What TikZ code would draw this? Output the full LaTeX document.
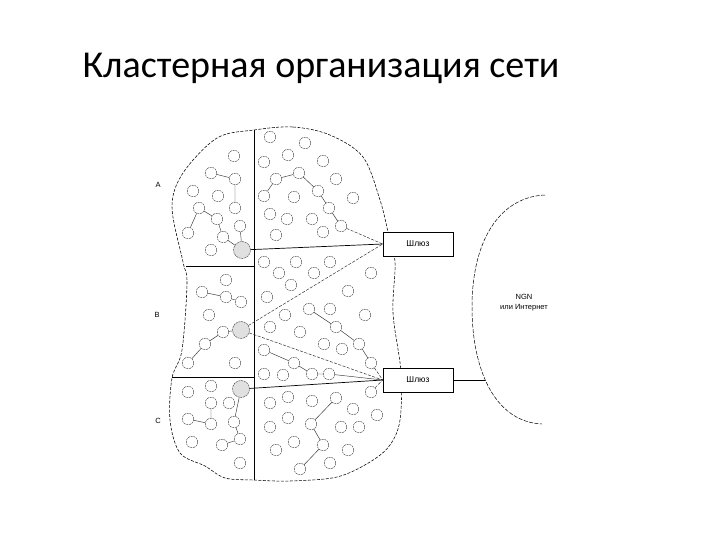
\documentclass[tikz,border=0pt]{standalone}
\usepackage{fontspec}
\setmainfont{Carlito}
\newfontfamily\arialf{Liberation Sans}
\begin{document}
\begin{tikzpicture}[x=1pt,y=-1pt,
  nd/.style={circle,draw=black!75,line width=0.45pt,dash pattern=on 2pt off 0.8pt,minimum size=11.5pt,inner sep=0pt},
  big/.style={nd,minimum size=17pt,fill=black!12},
  lk/.style={line width=0.45pt,black!80},
  dlk/.style={line width=0.5pt,black!80,dash pattern=on 3pt off 1.5pt},
  gw/.style={draw,fill=white,line width=0.6pt,minimum width=70pt,minimum height=24pt,inner sep=0pt,font=\arialf\fontsize{8.5}{10}\selectfont},
  lbl/.style={font=\arialf\fontsize{7.5}{9}\selectfont,inner sep=0pt}]
\useasboundingbox (0,0) rectangle (720,540);
\node[font=\fontsize{38}{44}\selectfont,anchor=base,inner sep=0pt] (title) at (321,78) {Кластерная организация сети};

% outer cluster boundary
\draw[line width=0.55pt,dash pattern=on 3pt off 1.5pt] plot[smooth cycle,tension=0.55] coordinates {
 (254,130) (293,127) (330,135) (363,157) (380,200) (388,232) (395,262) (393,313)
 (401,372) (400,420) (390,445) (370,462) (337,477) (290,481) (253,480) (225,478) (205,466) (180,453) (170,420)
 (172,378) (182,350) (187,283) (183,262) (172,207) (183,173) (217,138)};

% region lines
\draw[line width=0.8pt] (254,130) -- (254,480);
\draw[line width=0.7pt] (186,266) -- (254,266);
\draw[line width=0.7pt] (172,377) -- (254,377);

% gateways
\node[gw] (gwA) at (418,244) {Шлюз};
\node[gw] (gwB) at (418,380) {Шлюз};

% NGN
\draw[line width=0.5pt,dash pattern=on 4pt off 1.5pt] (545,195) .. controls (500,197) and (472,240) .. (472,307)
  .. controls (472,370) and (495,422) .. (542,424);
\coordinate (ngnL) at (485,380);
\node[lbl,align=center] (ngn) at (524,303) {NGN\\[1pt]или Интернет};

% labels
\node[lbl] (lA) at (158,185) {A};
\node[lbl] (lB) at (157,315) {B};
\node[lbl] (lC) at (158,421) {C};

% cluster heads
\node[big] (gA) at (242,250) {};
\node[big] (gB) at (241,330) {};
\node[big] (gC) at (241,389) {};

% nodes
\foreach \n/\x/\y in {
 a1/234/156, a2/211/173, a3/235/179, a4/193/191, a5/218/196, a6/235/208, a7/199/208,
 a8/217/219, a9/240/226, a10/188/233, a11/223/237, a12/211/250,
 b1/270/137, b2/305/143, b3/288/155, b4/264/162, b5/323/161, b6/299/173, b7/276/179,
 b8/336/179, b9/318/191, b10/264/196, b11/294/197, b12/353/198, b13/329/208, b14/270/214,
 b15/287/219, b16/312/219, b17/341/226, b18/276/235, b19/323/232,
 c1/226/280, c2/202/292, c3/226/297, c4/241/302, c5/209/315, c6/223/332, c7/205/344,
 c8/188/363, c9/235/363,
 d1/264/262, d2/296/262, d3/330/262, d4/279/273, d5/314/273, d6/371/273, d7/291/285,
 d8/348/291, d9/267/297, d10/285/315, d11/309/309, d12/330/309, d13/365/315, d14/270/327,
 d15/300/332, d16/336/327, d17/324/344, d18/342/349, d19/359/344, d20/264/350, d21/294/363,
 d22/371/363, d23/264/374, d24/283/375, d25/312/374, d26/329/374,
 e1/211/386, e2/188/392, e3/211/403, e4/229/403, e5/188/419, e6/234/422, e7/211/424,
 e8/240/439, e9/192/442, e10/222/445, e11/240/463,
 f1/371/392, f2/288/397, f3/336/398, f4/312/401, f5/270/403, f6/353/409, f7/377/415,
 f8/288/418, f9/311/424, f10/270/427, f11/341/427, f12/359/427, f13/294/442, f14/323/445,
 f15/276/450, f16/348/450, f17/330/463, f18/300/469}
 \node[nd] (\n) at (\x,\y) {};

% cluster edges
\draw[lk] (a2) -- (a3) (a3) -- (a6) (a7) -- (a10) (a7) -- (a8) (a8) -- (a11) (a11) -- (gA) (a9) -- (gA);
\draw[lk] (b7) -- (b6) (b6) -- (b9) (b9) -- (b13) (b13) -- (b17) (b7) -- (b10);
\draw[lk] (c2) -- (c3) (c3) -- (c4) (c8) -- (c7) (c7) -- (c6) (c6) -- (gB);
\draw[lk] (d11) -- (d16) (d16) -- (d19) (d19) -- (d22) (d20) -- (d21) (d21) -- (d25) (d25) -- (d26);
\draw[lk] (e3) -- (e7) (e5) -- (e7) (gC) -- (e6) (e6) -- (e8) (e10) -- (e8);
\draw[lk] (f3) -- (f9) (f9) -- (f14) (f14) -- (f18);

% gateway links
\draw[line width=0.7pt] (gA) -- (gwA.west);
\draw[dlk] (b17) -- (gwA.west);
\draw[dlk] (gB) -- (gwA.west);
\draw[dlk] (gB) -- (gwB.west);
\draw[line width=0.7pt] (gC) -- (gwB.west);
\draw[lk] (d26) -- (gwB.west);
\draw[dlk] (d22) -- (gwB.west);
\draw[dlk] (f1) -- (gwB.west);
\draw[line width=0.6pt] (gwB.east) -- (ngnL);
\end{tikzpicture}
\end{document}
